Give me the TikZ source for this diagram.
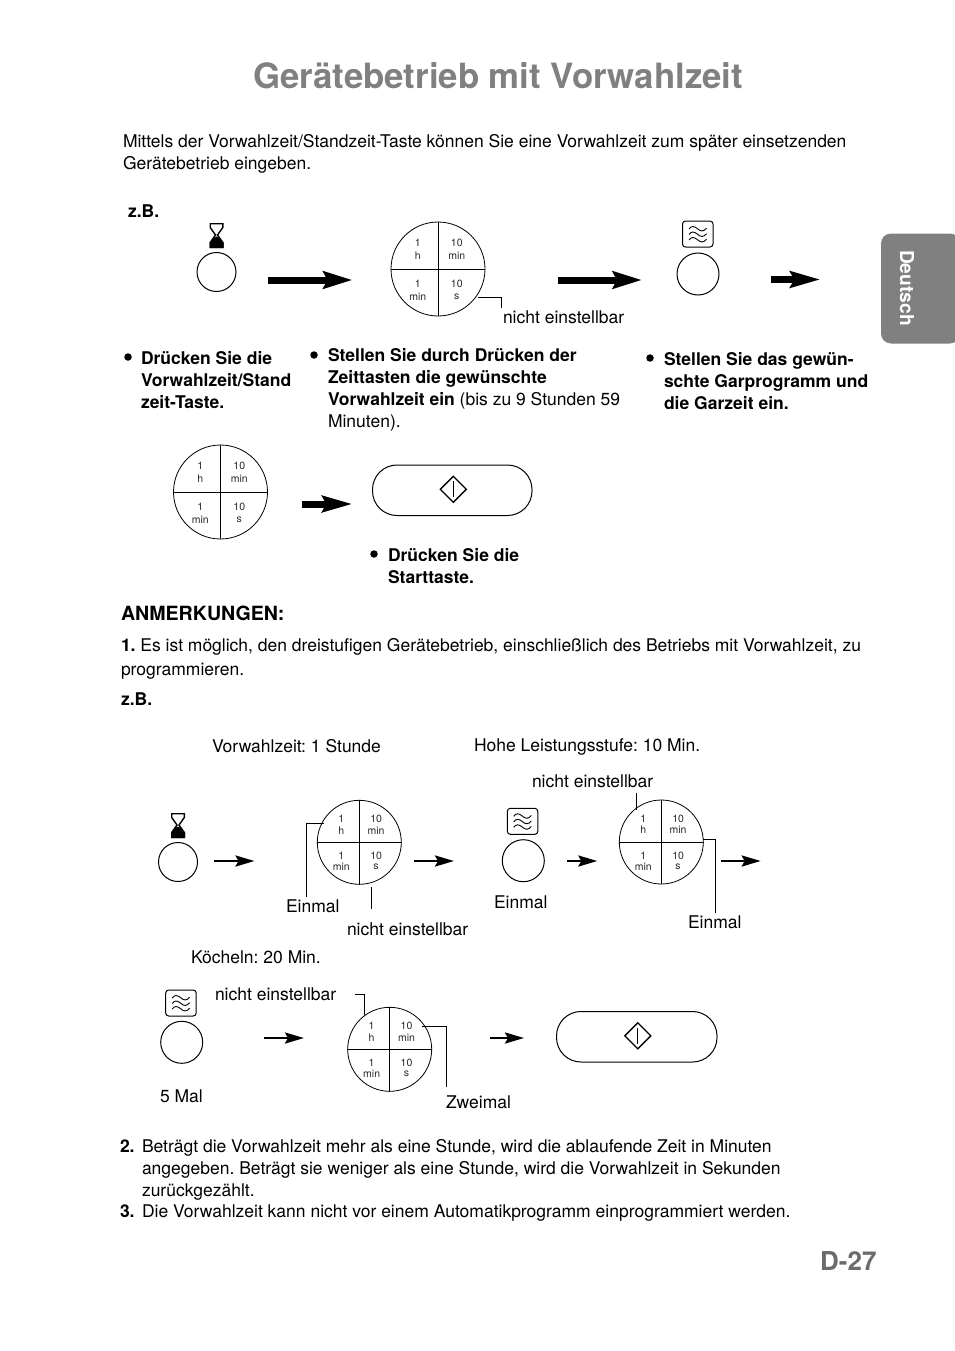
\documentclass[tikz,border=0pt]{standalone}
\usepackage{fontspec}
\setmainfont{TeX Gyre Heros}
\usetikzlibrary{arrows.meta,calc}
\frenchspacing
\definecolor{titlegray}{gray}{0.5}
\definecolor{tabgray}{gray}{0.5}
\definecolor{pagegray}{gray}{0.42}
\tikzset{
  txt/.style={anchor=base west,inner sep=0pt,outer sep=0pt,font=\fontsize{17.5}{22}\selectfont,align=left},
  btxt/.style={txt,font=\fontsize{17.5}{22}\selectfont\bfseries},
  dot/.style={circle,fill=black,inner sep=0pt,minimum size=7.5pt},
  keycircle/.style={circle,draw=black,line width=1pt,inner sep=0pt},
  dialcircle/.style={circle,draw=black,line width=0.8pt,inner sep=0pt},
  dialtxt/.style={inner sep=0pt,font=\fontsize{10.5}{12}\selectfont,text=black!85},
  leader/.style={draw=black,line width=0.9pt},
  fatarrow/.style={line width=7pt,-{Stealth[length=29pt,width=17pt,inset=4pt]}},
  shortfat/.style={line width=7pt,-{Stealth[length=30pt,width=16pt,inset=4pt]}},
  thinarrow/.style={line width=2.6pt,-{Stealth[length=19pt,width=11pt,inset=3pt]}},
}
\newcommand{\dial}[4]{% name cx cy r
  \node[dialcircle,minimum size=#4*2pt] (#1) at (#2,#3) {};
  \draw[line width=0.8pt] (#1.north) -- (#1.south);
  \draw[line width=0.8pt] (#1.west) -- (#1.east);
  \node[dialtxt] (#1-a) at ($(#1)+(-#4*0.43,-#4*0.57+0.6)$) {1};
  \node[dialtxt] (#1-b) at ($(#1)+(-#4*0.43,-#4*0.30+0.6)$) {h};
  \node[dialtxt] (#1-c) at ($(#1)+(#4*0.40,-#4*0.57+0.6)$) {10};
  \node[dialtxt] (#1-d) at ($(#1)+(#4*0.40,-#4*0.30+0.6)$) {min};
  \node[dialtxt] (#1-e) at ($(#1)+(-#4*0.43,#4*0.30+0.8)$) {1};
  \node[dialtxt] (#1-f) at ($(#1)+(-#4*0.43,#4*0.57+0.8)$) {min};
  \node[dialtxt] (#1-g) at ($(#1)+(#4*0.40,#4*0.30+0.8)$) {10};
  \node[dialtxt] (#1-i) at ($(#1)+(#4*0.40,#4*0.57+0.8)$) {s};
}
\newcommand{\hourglass}[2]{% cx cy
  \begin{scope}[shift={(#1,#2)}]
    \draw[line width=1.4pt,line join=miter] (-6.3,-11.8) -- (6.3,-11.8) -- (6.3,-8) -- (1,-0.5) -- (6.3,7) -- (6.3,11.8) -- (-6.3,11.8) -- (-6.3,7) -- (-1,-0.5) -- (-6.3,-8) -- cycle;
    \fill (-7,12.5) -- (7,12.5) -- (7,7) -- (2,2) -- (0,1) -- (-2,2) -- (-7,7) -- cycle;
  \end{scope}
}
\newcommand{\waveicon}[2]{% left top
  \begin{scope}[shift={(#1,#2)}]
    \draw[line width=1pt,rounded corners=3pt] (0,0) rectangle (30.5,26);
    \foreach \wy in {8,13.5,19}{
      \draw[line width=0.9pt] (6.5,\wy) .. controls (9,\wy-3.5) and (11.5,\wy-3) .. (15,\wy-0.3) .. controls (18,\wy+2.5) and (21,\wy+3) .. (24,\wy-0.8);
    }
  \end{scope}
}
\newcommand{\startkey}[5]{% name x1 y1 x2 y2
  \draw[line width=1pt,rounded corners=24.5pt] (#2,#3) rectangle (#4,#5);
  \coordinate (#1) at ($(#2,#3)!0.5!(#4,#5)$);
  \begin{scope}[shift={(#1)}]
    \draw[line width=1.4pt,line join=miter] (-12,-1) -- (1,-14) -- (14,-1) -- (1,12) -- cycle;
    \draw[line width=1pt] (1,-9) -- (1,7);
  \end{scope}
}
\begin{document}
\begin{tikzpicture}[x=1pt,y=-1pt]
\useasboundingbox (0,0) rectangle (954,1351);
% title
\node[anchor=base west,inner sep=0pt,text=titlegray,font=\fontsize{34.8}{40}\selectfont\bfseries] (title) at (253,88.5) {Gerätebetrieb mit Vorwahlzeit};
\node[txt] (intro) at (123,170) {Mittels der Vorwahlzeit/Standzeit-Taste können Sie eine Vorwahlzeit zum später einsetzenden\\Gerätebetrieb eingeben.};
\node[btxt] (zb1) at (128,217) {z.B.};
% side tab
\fill[tabgray,rounded corners=10pt] (960,233.5) -- (881,233.5) -- (881,343.5) -- (960,343.5) -- cycle;
\node[rotate=-90,inner sep=0pt,text=white,font=\fontsize{19.2}{22}\selectfont\bfseries] (tab) at (907,288) {Deutsch};
% top row
\hourglass{216.5}{235.5}
\node[keycircle,minimum size=39pt] (k1) at (216.5,272) {};
\coordinate (a1s) at (268,280); \coordinate (a1e) at (352.5,280);
\draw[fatarrow] (a1s) -- (a1e);
\dial{d1}{438}{269}{47}
\coordinate (l1a) at (478,297); \coordinate (l1b) at (501.5,297); \coordinate (l1c) at (501.5,307.5);
\draw[leader] (l1a) -- (l1b) -- (l1c);
\node[txt] (ne1) at (503,323) {nicht einstellbar};
\coordinate (a2s) at (558,280); \coordinate (a2e) at (642,280);
\draw[fatarrow] (a2s) -- (a2e);
\waveicon{682.5}{221}
\node[keycircle,minimum size=42pt] (k2) at (698,274) {};
\coordinate (a3s) at (771,279.5); \coordinate (a3e) at (820.5,279.5);
\draw[shortfat] (a3s) -- (a3e);
% bullets row
\node[dot] (b1) at (128,357) {};
\node[btxt] (t1) at (141,408) {Drücken Sie die\\Vorwahlzeit/Stand\\zeit-Taste.};
\node[dot] (b2) at (314,355) {};
\node[btxt] (t2) at (328,427.5) {Stellen Sie durch Drücken der\\Zeittasten die gewünschte\\Vorwahlzeit ein \mdseries(bis zu 9 Stunden 59\\\mdseries Minuten).};
\node[dot] (b3) at (650,358) {};
\node[btxt] (t3) at (664,409) {Stellen Sie das gewün-\\schte Garprogramm und\\die Garzeit ein.};
% second row
\dial{d2}{220.5}{492}{47}
\coordinate (a4s) at (302,504); \coordinate (a4e) at (352.5,504);
\draw[shortfat] (a4s) -- (a4e);
\startkey{s1}{372.5}{465}{532}{515.5}
\node[dot] (b4) at (374,554) {};
\node[btxt] (t4) at (388,583) {Drücken Sie die\\Starttaste.};
% notes
\node[btxt,font=\fontsize{19.6}{22}\selectfont\bfseries] (anm) at (121,620) {ANMERKUNGEN:};
\node[txt] (n1) at (121,675) {\makebox[740pt][s]{\textbf{1.} Es ist möglich, den dreistufigen Gerätebetrieb, einschließlich des Betriebs mit Vorwahlzeit, zu}\\[2pt]programmieren.};
\node[btxt] (zb2) at (121,705) {z.B.};
\node[txt] (v1) at (212,752) {Vorwahlzeit: 1 Stunde};
\node[txt] (v2) at (474,751) {Hohe Leistungsstufe: 10 Min.};
\node[txt] (ne2) at (532,787) {nicht einstellbar};
% example row 1
\hourglass{178}{825.5}
\node[keycircle,minimum size=39pt] (k3) at (178,862) {};
\coordinate (a5s) at (214,861); \coordinate (a5e) at (254.5,861);
\draw[thinarrow] (a5s) -- (a5e);
\dial{d3}{359.3}{842.3}{42}
\coordinate (l2a) at (324,823.3); \coordinate (l2b) at (306.7,823.3); \coordinate (l2c) at (306.7,896.7);
\draw[leader] (l2a) -- (l2b) -- (l2c);
\coordinate (l3a) at (371.3,887.3); \coordinate (l3b) at (371.3,909);
\draw[leader] (l3a) -- (l3b);
\node[txt] (e1) at (286,912) {Einmal};
\node[txt] (ne3) at (347,935) {nicht einstellbar};
\coordinate (a6s) at (414,861); \coordinate (a6e) at (454,861);
\draw[thinarrow] (a6s) -- (a6e);
\waveicon{507.3}{808.3}
\node[keycircle,minimum size=42pt] (k4) at (523.3,860.7) {};
\node[txt] (e2) at (494,908) {Einmal};
\coordinate (a7s) at (567.3,861); \coordinate (a7e) at (597.3,861);
\draw[thinarrow] (a7s) -- (a7e);
\dial{d4}{661.3}{842}{42}
\coordinate (l4a) at (636.7,793.3); \coordinate (l4b) at (636.7,810);
\draw[leader] (l4a) -- (l4b);
\coordinate (l5a) at (702.7,839.3); \coordinate (l5b) at (715,839.3); \coordinate (l5c) at (715,913.3);
\draw[leader] (l5a) -- (l5b) -- (l5c);
\node[txt] (e3) at (688,928) {Einmal};
\coordinate (a8s) at (720.7,861); \coordinate (a8e) at (760.7,861);
\draw[thinarrow] (a8s) -- (a8e);
% example row 2
\node[txt] (koe) at (191,963) {Köcheln: 20 Min.};
\waveicon{165.7}{990}
\node[txt] (ne4) at (215,1000) {nicht einstellbar};
\node[keycircle,minimum size=42pt] (k5) at (181.7,1042.3) {};
\node[txt] (m5) at (160,1102) {5 Mal};
\coordinate (a9s) at (264,1038); \coordinate (a9e) at (304,1038);
\draw[thinarrow] (a9s) -- (a9e);
\dial{d5}{389.7}{1049.3}{42}
\coordinate (l6a) at (355,994.7); \coordinate (l6b) at (364.7,994.7); \coordinate (l6c) at (364.7,1015);
\draw[leader] (l6a) -- (l6b) -- (l6c);
\coordinate (l7a) at (421.7,1026.7); \coordinate (l7b) at (446.3,1026.7); \coordinate (l7c) at (446.3,1087.3);
\draw[leader] (l7a) -- (l7b) -- (l7c);
\node[txt] (z1) at (446,1108) {Zweimal};
\coordinate (a10s) at (490,1038); \coordinate (a10e) at (524,1038);
\draw[thinarrow] (a10s) -- (a10e);
\startkey{s2}{556.5}{1011.5}{717}{1062}
% closing notes
\node[btxt] (n2n) at (120,1152) {2.};
\node[txt] (n2) at (142,1196) {Beträgt die Vorwahlzeit mehr als eine Stunde, wird die ablaufende Zeit in Minuten\\angegeben. Beträgt sie weniger als eine Stunde, wird die Vorwahlzeit in Sekunden\\zurückgezählt.};
\node[btxt] (n3n) at (120,1217) {3.};
\node[txt] (n3) at (142,1217) {Die Vorwahlzeit kann nicht vor einem Automatikprogramm einprogrammiert werden.};
\node[anchor=base west,inner sep=0pt,text=pagegray,font=\fontsize{26}{30}\selectfont\bfseries] (page) at (820,1270.5) {D-27};
\end{tikzpicture}
\end{document}
